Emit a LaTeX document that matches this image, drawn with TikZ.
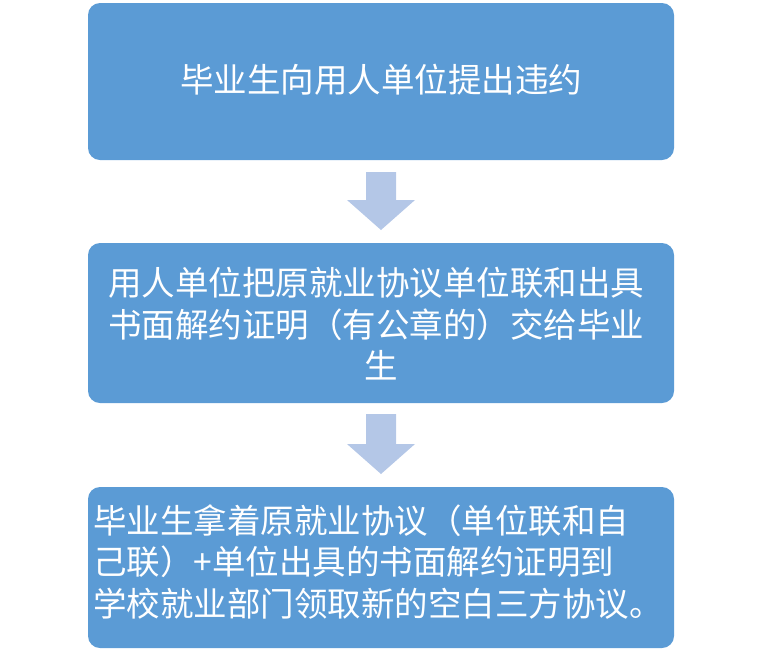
\documentclass[tikz,border=0pt]{standalone}
\usepackage{fontspec}
\newfontfamily\cjk{Noto Sans CJK SC}
\begin{document}
\begin{tikzpicture}[x=1pt,y=-1pt,
  box/.style={fill=boxblue,rounded corners=12pt,draw=none},
  txt/.style={text=white,font=\cjk\fontsize{33.5}{41.5}\selectfont,align=left,inner sep=0pt}]
\definecolor{boxblue}{HTML}{5B9BD5}
\definecolor{arrblue}{HTML}{B4C7E7}
\useasboundingbox (0,0) rectangle (760,654);
\fill[box] (88,3) rectangle (674,160);
\fill[box] (88,243) rectangle (674,403);
\fill[box] (88,487) rectangle (674,648);
\node[txt] (t1) at (381,80) {毕业生向用人单位提出违约};
\node[txt,anchor=west] (t2) at (108,324) {用人单位把原就业协议单位联和出具\\书面解约证明（有公章的）交给毕业\\\hspace*{256pt}生};
\node[txt,anchor=west] (t3) at (93,562) {毕业生拿着原就业协议（单位联和自\\己联）+单位出具的书面解约证明到\\学校就业部门领取新的空白三方协议。};
\fill[arrblue] (366,172) -- (396,172) -- (396,200) -- (415,200) -- (381,230) -- (347,200) -- (366,200) -- cycle;
\fill[arrblue] (366,414) -- (396,414) -- (396,444) -- (415,444) -- (381,474) -- (347,444) -- (366,444) -- cycle;
\end{tikzpicture}
\end{document}
